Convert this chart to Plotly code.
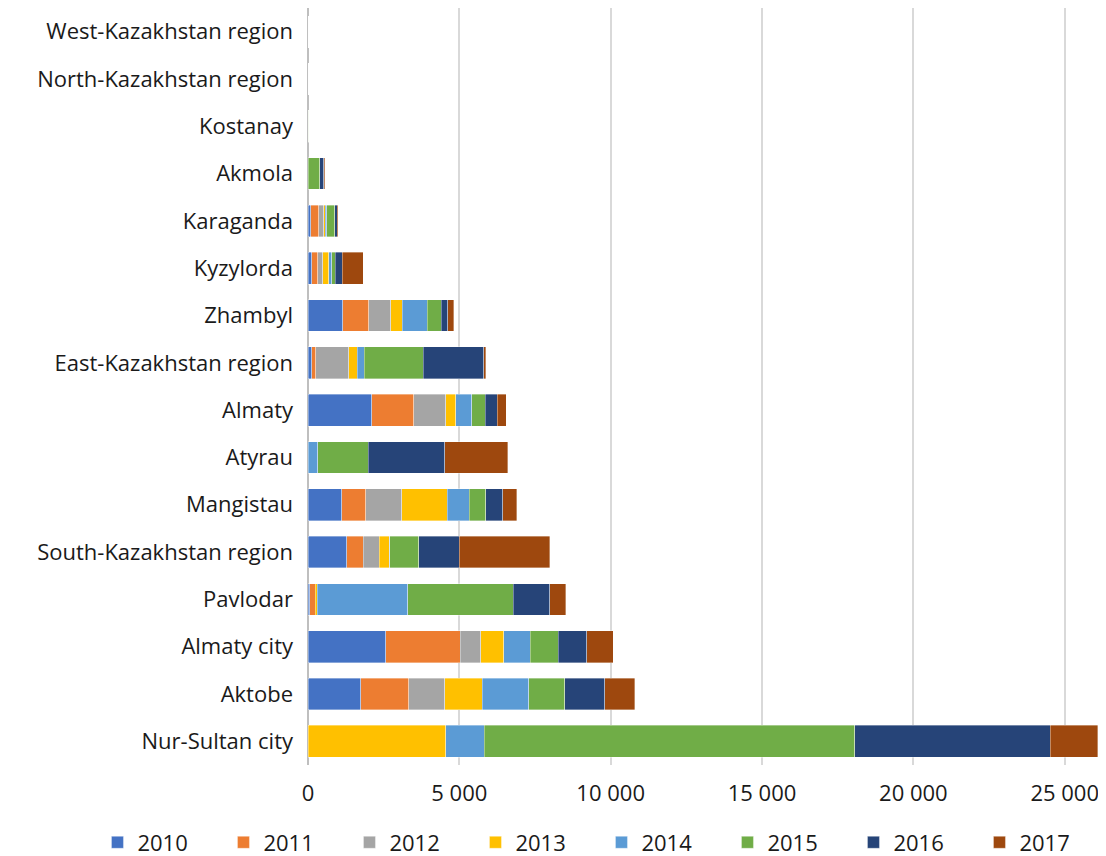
import plotly.graph_objects as go

regions = ["Nur-Sultan city", "Aktobe", "Almaty city", "Pavlodar", "South-Kazakhstan region",
           "Mangistau", "Atyrau", "Almaty", "East-Kazakhstan region", "Zhambyl", "Kyzylorda",
           "Karaganda", "Akmola", "Kostanay", "North-Kazakhstan region", "West-Kazakhstan region"]

years = ["2010", "2011", "2012", "2013", "2014", "2015", "2016", "2017"]

v2010 = [0, 1740, 2575, 50, 1280, 1120, 0, 2100, 130, 1155, 120, 90, 0, 0, 0, 0]
v2011 = [0, 1595, 2455, 190, 540, 795, 0, 1400, 130, 860, 210, 265, 0, 0, 0, 0]
v2012 = [0, 1180, 670, 0, 540, 1180, 0, 1045, 1090, 725, 165, 165, 0, 0, 0, 0]
v2013 = [4545, 1235, 760, 65, 330, 1510, 0, 330, 285, 375, 185, 45, 0, 0, 0, 0]
v2014 = [1275, 1550, 890, 2995, 15, 715, 330, 530, 220, 825, 110, 55, 0, 0, 0, 0]
v2015 = [12240, 1180, 925, 3480, 960, 550, 1660, 450, 1950, 460, 110, 265, 390, 30, 0, 0]
v2016 = [6470, 1330, 935, 1210, 1330, 570, 2530, 395, 2005, 210, 230, 75, 130, 0, 0, 0]
v2017 = [1565, 980, 870, 530, 2995, 450, 2080, 295, 65, 200, 695, 45, 30, 0, 0, 0]

series = [v2010, v2011, v2012, v2013, v2014, v2015, v2016, v2017]
colors = ["#4472C4", "#ED7D31", "#A5A5A5", "#FFC000", "#5B9BD5", "#70AD47", "#264478", "#9E480E"]

font_family = "Open Sans"
text_color = "#1a1a1a"
fsize = 22

fig = go.Figure()
for name, vals, col in zip(years, series, colors):
    fig.add_trace(go.Bar(
        y=regions, x=vals, name=name, orientation="h",
        marker=dict(color=col, line=dict(color="rgba(255,255,255,0.6)", width=0.6)),
    ))

fig.update_layout(
    barmode="stack",
    bargap=0.33,
    width=1098, height=848,
    margin=dict(l=300, r=8, t=0, b=91, autoexpand=False),
    plot_bgcolor="white", paper_bgcolor="white",
    separators=". ",
    font=dict(family=font_family, size=fsize, color=text_color),
    xaxis=dict(
        range=[0, 26100], tickvals=[0, 5000, 10000, 15000, 20000, 25000],
        tickformat=",d", showgrid=True, gridcolor="#d9d9d9", gridwidth=1.5,
        zeroline=True, zerolinecolor="#bfbfbf", zerolinewidth=1.5,
        showline=False, ticks="", tickfont=dict(size=fsize, color=text_color),
        ticklabelstandoff=13, automargin=False, fixedrange=True,
    ),
    yaxis=dict(
        categoryorder="array", categoryarray=regions,
        showgrid=False, ticks="", ticklabelstandoff=14, automargin=False,
        tickfont=dict(size=fsize, color=text_color),
    ),
    legend=dict(
        orientation="h", xref="paper", yref="paper",
        x=-0.2665, xanchor="left", y=-0.0746, yanchor="top",
        entrywidth=81, entrywidthmode="pixels", traceorder="normal",
        font=dict(size=fsize, color=text_color), itemwidth=30,
    ),
)

fig.write_html("out.html")
